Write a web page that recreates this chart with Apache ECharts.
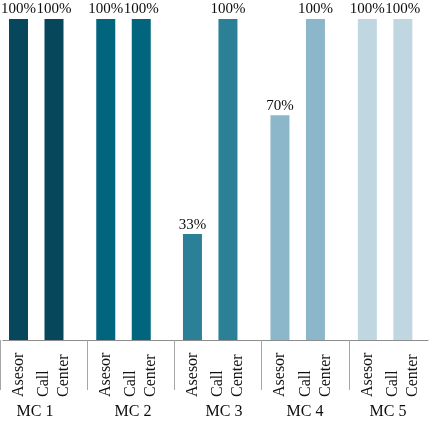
<!DOCTYPE html>
<html>
<head>
<meta charset="utf-8">
<script src="https://cdn.jsdelivr.net/npm/echarts@6/dist/echarts.min.js"></script>
<style>
  html, body { margin: 0; padding: 0; background: #ffffff; }
  #chart { width: 436px; height: 423px; }
</style>
</head>
<body>
<div id="chart"></div>
<script>
// ---- data ----
const groups = ['MC 1', 'MC 2', 'MC 3', 'MC 4', 'MC 5'];
const subCategories = ['Asesor', 'Call Center'];
const asesorValues = [100, 100, 33, 70, 100];
const callCenterValues = [100, 100, 100, 100, 100];

// ---- styles / layout ----
const groupColors = ['#06475c', '#01657d', '#2b7f97', '#8cb6c9', '#c0d7e2'];
const FONT = '"Liberation Serif", "Times New Roman", serif';
const barGridLefts = [0.75, 88, 174.7, 262.2, 349.6];
const barGridWidth = 71;
const labelCenters = [35, 133, 224, 305, 388];
const TOP = 19, BOTTOM = 83;

const grid = [], xAxis = [], yAxis = [], series = [];

groups.forEach((g, k) => {
  grid.push({ left: barGridLefts[k], width: barGridWidth, top: TOP, bottom: BOTTOM });
  xAxis.push({
    type: 'category', gridIndex: k, data: subCategories,
    axisLine: { show: false }, axisTick: { show: false },
    axisLabel: {
      rotate: 90, align: 'left', margin: 57, interval: 0,
      fontFamily: FONT, fontSize: 16, color: '#111111', lineHeight: 20,
      formatter: v => v.replace(' ', '\n')
    }
  });
  yAxis.push({ type: 'value', gridIndex: k, min: 0, max: 100, show: false });
  series.push({
    type: 'bar', xAxisIndex: k, yAxisIndex: k,
    data: [asesorValues[k], callCenterValues[k]],
    barWidth: 19,
    itemStyle: { color: groupColors[k] },
    label: {
      show: true, position: 'top', distance: 2, formatter: '{c}%',
      fontFamily: FONT, fontSize: 15, color: '#0d0d0d'
    }
  });
});

// baseline axis line
let gi = grid.length;
grid.push({ left: 3, right: 8, top: TOP, bottom: BOTTOM });
xAxis.push({
  type: 'category', gridIndex: gi, data: [''],
  axisLine: { show: true, lineStyle: { color: '#8c8c8c', width: 1 } },
  axisTick: { show: false }, axisLabel: { show: false }
});
yAxis.push({ type: 'value', gridIndex: gi, show: false });

// group separators
gi = grid.length;
grid.push({ left: -6.85, width: 444.5, top: TOP, bottom: BOTTOM });
xAxis.push({
  type: 'category', gridIndex: gi, data: groups, offset: 8,
  axisLine: { show: false },
  axisTick: { show: true, length: 50, lineStyle: { color: '#a6a6a6', width: 1 } },
  axisLabel: { show: false }
});
yAxis.push({ type: 'value', gridIndex: gi, show: false });

// group labels
groups.forEach((g, k) => {
  const idx = grid.length;
  grid.push({ left: labelCenters[k] - 30, width: 60, top: TOP, bottom: BOTTOM });
  xAxis.push({
    type: 'category', gridIndex: idx, data: [g],
    axisLine: { show: false }, axisTick: { show: false },
    axisLabel: { margin: 64, fontFamily: FONT, fontSize: 16, color: '#0d0d0d' }
  });
  yAxis.push({ type: 'value', gridIndex: idx, show: false });
});

const chart = echarts.init(document.getElementById('chart'));
chart.setOption({
  animation: false,
  backgroundColor: '#ffffff',
  grid, xAxis, yAxis, series
});
</script>
</body>
</html>
